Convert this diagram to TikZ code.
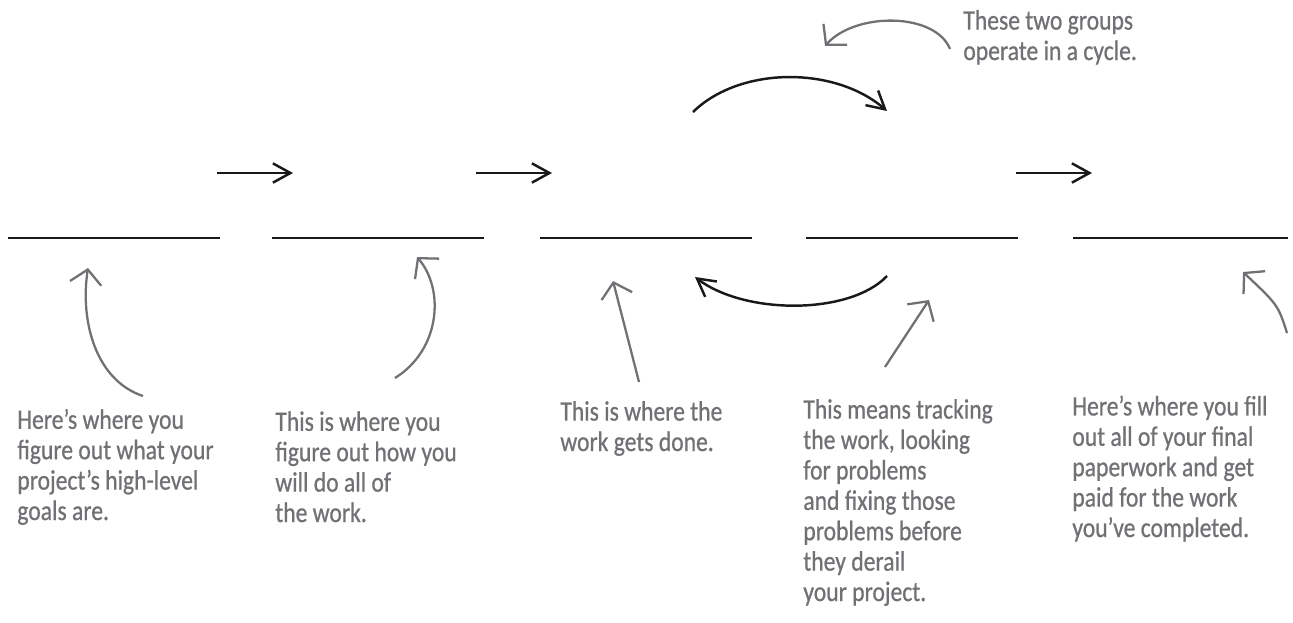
\documentclass[tikz,border=0pt]{standalone}
\usepackage{fontspec}
\usetikzlibrary{arrows.meta}
\newfontfamily\notefont{Carlito}[FakeStretch=0.84, FakeBold=0.7]
\definecolor{notegray}{HTML}{707174}

\begin{document}
\begin{tikzpicture}[x=0.02cm, y=-0.02cm,
    blank/.style={line width=1.7pt, black!90},
    flow/.style={line width=1.4pt, black!90, -{Straight Barb[length=10pt, width=11pt]}},
    pointer/.style={line width=1.3pt, notegray, -{Straight Barb[length=8pt, width=18pt]}},
    note/.style={anchor=base west, inner sep=0pt, align=left, text=notegray,
        font=\notefont\fontsize{16}{17.3}\selectfont}]

    \useasboundingbox (0,0) rectangle (1293,622);

    % The five blanks
    \foreach \name/\xa/\xb in {init/8/220, plan/272/484, exec/540/752, mon/806/1018, close/1073/1288} {
        \coordinate (\name-l) at (\xa,238);
        \coordinate (\name-r) at (\xb,238);
        \draw[blank] (\name-l) -- (\name-r);
    }

    % Flow from one group to the next
    \coordinate (f1a) at (217,173);  \coordinate (f1b) at (293,173);
    \coordinate (f2a) at (476,173);  \coordinate (f2b) at (552,173);
    \coordinate (f3a) at (1016,173); \coordinate (f3b) at (1092,173);
    \draw[flow] (f1a) -- (f1b);
    \draw[flow] (f2a) -- (f2b);
    \draw[flow] (f3a) -- (f3b);

    % The cycle between executing and monitoring
    \coordinate (cyc1) at (693,112); \coordinate (cyc2) at (887,111);
    \coordinate (cyc3) at (887,276); \coordinate (cyc4) at (695,277);
    \draw[flow] (cyc1) .. controls (740,66) and (835,66) .. (cyc2);
    \draw[flow] (cyc3) .. controls (850,315) and (745,315) .. (cyc4);

    % Notes (anchored at the baseline of their last line)
    \node[note] (cycnote) at (963,60) {These two groups\\operate in a cycle.};
    \node[note] (initnote) at (17,520) {Here’s where you\\figure out what your\\project’s high-level\\goals are.};
    \node[note] (plannote) at (275,522) {This is where you\\figure out how you\\will do all of\\the work.};
    \node[note] (execnote) at (560,451) {This is where the\\work gets done.};
    \node[note] (monnote) at (803,601) {This means tracking\\the work, looking\\for problems\\and fixing those\\problems before\\they derail\\your project.};
    \node[note] (closenote) at (1072,537) {Here’s where you fill\\out all of your final\\paperwork and get\\paid for the work\\you’ve completed.};

    % Pointers from the notes
    \coordinate (p0a) at (950,49);  \coordinate (p0b) at (825,46);
    \coordinate (p1a) at (143,396); \coordinate (p1b) at (88,268);
    \coordinate (p2a) at (395,378); \coordinate (p2b) at (417,257);
    \coordinate (p3a) at (639,382); \coordinate (p3b) at (613,281);
    \coordinate (p4a) at (885,367); \coordinate (p4b) at (929,300);
    \coordinate (p5a) at (1287,333); \coordinate (p5b) at (1243,272);
    \draw[pointer] (p0a) .. controls (935,12) and (855,12) .. (p0b);
    \draw[pointer] (p1a) .. controls (95,380) and (80,320) .. (p1b);
    \draw[pointer] (p2a) .. controls (440,350) and (445,290) .. (p2b);
    \draw[pointer] (p3a) -- (p3b);
    \draw[pointer] (p4a) -- (p4b);
    \draw[pointer] (p5a) .. controls (1278,305) .. (p5b);
\end{tikzpicture}
\end{document}
